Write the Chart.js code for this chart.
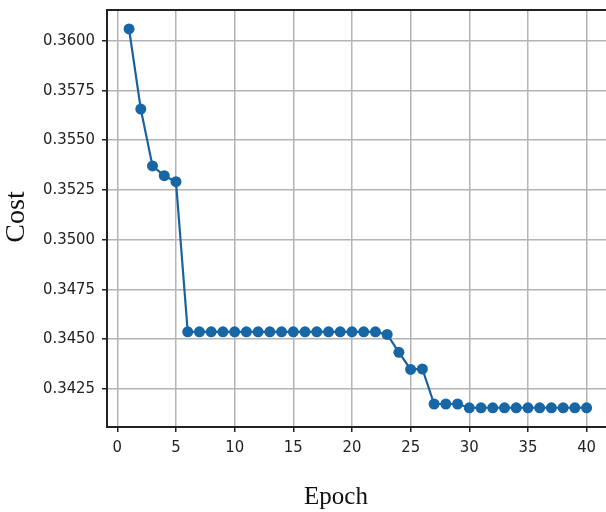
<!DOCTYPE html>
<html>
<head>
<meta charset="utf-8">
<script src="https://cdn.jsdelivr.net/npm/chart.js@4/dist/chart.umd.min.js"></script>
<style>
  html, body { margin: 0; padding: 0; background: #fff; overflow: hidden; }
  #wrap { width: 606px; height: 512px; overflow: hidden; }
  #wrap > div { width: 615px; height: 512px; position: relative; }
</style>
</head>
<body>
<div id="wrap"><div><canvas id="costChart"></canvas></div></div>
<script>
// Data
const epochs = [1, 2, 3, 4, 5, 6, 7, 8, 9, 10, 11, 12, 13, 14, 15, 16, 17, 18, 19, 20,
  21, 22, 23, 24, 25, 26, 27, 28, 29, 30, 31, 32, 33, 34, 35, 36, 37, 38, 39, 40];
const cost = [0.36059, 0.35656, 0.35370, 0.35321, 0.35291,
  0.34536, 0.34536, 0.34536, 0.34536, 0.34536, 0.34536, 0.34536, 0.34536, 0.34536,
  0.34536, 0.34536, 0.34536, 0.34536, 0.34536, 0.34536, 0.34536, 0.34536,
  0.34523, 0.34433, 0.34347, 0.34349,
  0.34173, 0.34173, 0.34173,
  0.34154, 0.34154, 0.34154, 0.34154, 0.34154, 0.34154, 0.34154, 0.34154, 0.34154, 0.34154, 0.34154];
const xTicks = [0, 5, 10, 15, 20, 25, 30, 35, 40];
const yTicks = [0.3425, 0.3450, 0.3475, 0.3500, 0.3525, 0.3550, 0.3575, 0.3600];
const xLabel = "Epoch";
const yLabel = "Cost";

const tickFont = { family: "'DejaVu Sans Condensed', 'DejaVu Sans', sans-serif", size: 16.5 };
const gridColor = "#b4b4b4";
const axisColor = "#222";

// Top frame line + axis titles
const framePlugin = {
  id: "frame",
  afterDraw(chart) {
    const { ctx, chartArea } = chart;
    ctx.save();
    ctx.strokeStyle = axisColor;
    ctx.lineWidth = 2;
    ctx.beginPath();
    ctx.moveTo(chartArea.left, chartArea.top);
    ctx.lineTo(chartArea.right, chartArea.top);
    ctx.stroke();

    ctx.fillStyle = "#111";
    ctx.textAlign = "center";
    ctx.textBaseline = "middle";
    ctx.font = "25px 'Liberation Serif', serif";
    ctx.fillText(xLabel, 336, 497);

    ctx.translate(17, 217);
    ctx.rotate(-Math.PI / 2);
    ctx.font = "28px 'Liberation Serif', serif";
    ctx.fillText(yLabel, 0, 0);
    ctx.restore();
  },
};

const ctx = document.getElementById("costChart").getContext("2d");
new Chart(ctx, {
  type: "line",
  data: {
    datasets: [
      {
        data: epochs.map((e, i) => ({ x: e, y: cost[i] })),
        borderColor: "#17629f",
        backgroundColor: "#1766a5",
        borderWidth: 2.2,
        pointRadius: 5.5,
        pointBorderWidth: 0,
        pointBackgroundColor: "#1766a5",
        tension: 0,
      },
    ],
  },
  options: {
    responsive: true,
    maintainAspectRatio: false,
    animation: false,
    layout: { padding: { top: 10, right: 3, left: 0, bottom: 0 } },
    plugins: {
      legend: { display: false },
      tooltip: { enabled: false },
    },
    scales: {
      x: {
        type: "linear",
        min: -0.88,
        max: 41.95,
        afterBuildTicks: (scale) => {
          scale.ticks = xTicks.map((v) => ({ value: v }));
        },
        afterFit: (scale) => {
          scale.height = 85;
          scale.paddingLeft = 0;
          scale.paddingRight = 0;
        },
        ticks: {
          font: tickFont,
          color: "#222",
          padding: 6,
          maxRotation: 0,
          callback: (v) => String(v),
        },
        grid: { color: gridColor, lineWidth: 1.5, tickColor: axisColor, tickLength: 5, tickWidth: 1.5 },
        border: { color: axisColor, width: 2 },
      },
      y: {
        min: 0.340573,
        max: 0.361544,
        afterBuildTicks: (scale) => {
          scale.ticks = yTicks.map((v) => ({ value: v }));
        },
        afterFit: (scale) => {
          scale.width = 107;
          scale.paddingTop = 0;
          scale.paddingBottom = 0;
        },
        ticks: {
          font: tickFont,
          color: "#222",
          padding: 7,
          callback: (v) => Number(v).toFixed(4),
        },
        grid: { color: gridColor, lineWidth: 1.5, tickColor: axisColor, tickLength: 5, tickWidth: 1.5 },
        border: { color: axisColor, width: 2 },
      },
    },
  },
  plugins: [framePlugin],
});
</script>
</body>
</html>
